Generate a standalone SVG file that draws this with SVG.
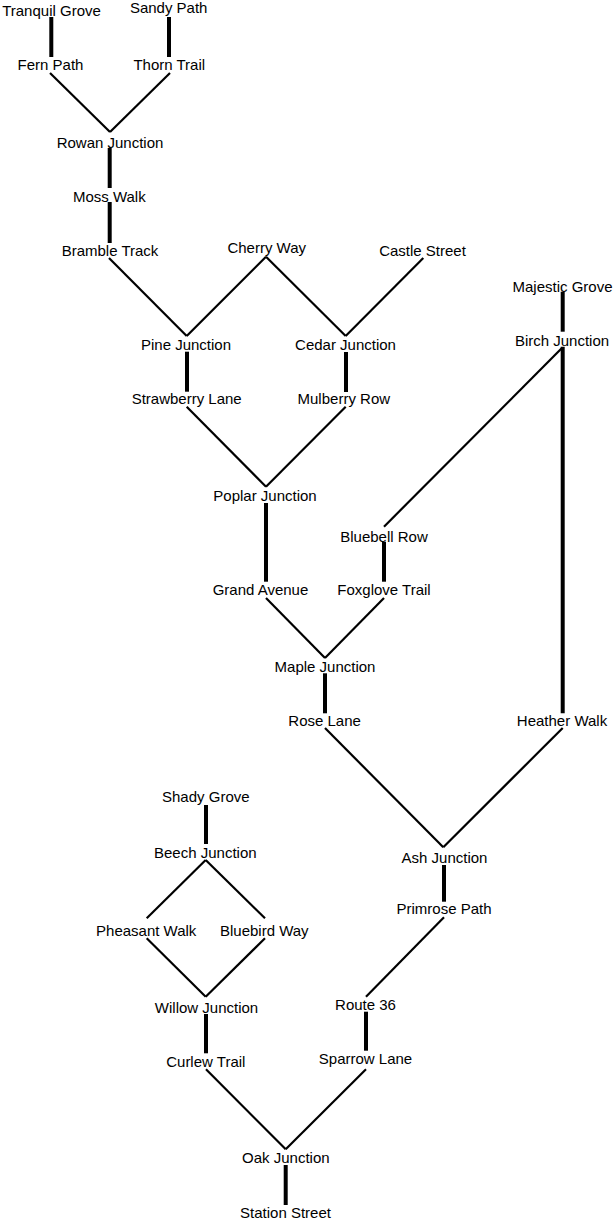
<svg xmlns="http://www.w3.org/2000/svg" width="615" height="1219" viewBox="0 0 615 1219">
<style>
.v{stroke:#000;stroke-width:4;fill:none}
.d{stroke:#000;stroke-width:2.2;fill:none}
text{font-family:"Liberation Sans",Arial,sans-serif;font-size:15px;fill:#000;text-anchor:middle}
</style>
<rect width="615" height="1219" fill="#fff"/>
<g id="connectors">
<line class="v" x1="51.3" y1="17" x2="51.3" y2="57"/>
<line class="v" x1="169" y1="17" x2="169" y2="57"/>
<line class="v" x1="109.7" y1="148" x2="109.7" y2="188"/>
<line class="v" x1="109.7" y1="202" x2="109.7" y2="243"/>
<line class="v" x1="187" y1="351.7" x2="187" y2="391.7"/>
<line class="v" x1="346" y1="352" x2="346" y2="392"/>
<line class="v" x1="266" y1="503" x2="266" y2="581.7"/>
<line class="v" x1="384" y1="541.7" x2="384" y2="581.7"/>
<line class="v" x1="562.7" y1="291.7" x2="562.7" y2="331.7"/>
<line class="v" x1="562.7" y1="346.7" x2="562.7" y2="713.3"/>
<line class="v" x1="325" y1="673.3" x2="325" y2="713.3"/>
<line class="v" x1="444" y1="865" x2="444" y2="901.7"/>
<line class="v" x1="366" y1="1011.7" x2="366" y2="1050.7"/>
<line class="v" x1="206" y1="1014" x2="206" y2="1053.3"/>
<line class="v" x1="285.7" y1="1165" x2="285.7" y2="1205"/>
<line class="v" x1="206" y1="805" x2="206" y2="844"/>
<line class="d" x1="50" y1="73" x2="110" y2="132"/>
<line class="d" x1="170" y1="73" x2="110" y2="132"/>
<line class="d" x1="109" y1="258" x2="186.7" y2="336"/>
<line class="d" x1="266" y1="256.7" x2="186.7" y2="336"/>
<line class="d" x1="266" y1="256.7" x2="345.7" y2="336"/>
<line class="d" x1="423.3" y1="258" x2="345.7" y2="336"/>
<line class="d" x1="186.7" y1="406.7" x2="266" y2="486.7"/>
<line class="d" x1="345.7" y1="406.7" x2="266" y2="486.7"/>
<line class="d" x1="561.7" y1="348.3" x2="384" y2="526.7"/>
<line class="d" x1="266" y1="598" x2="325" y2="658"/>
<line class="d" x1="384" y1="598" x2="325" y2="658"/>
<line class="d" x1="325" y1="728" x2="443.3" y2="847.3"/>
<line class="d" x1="562.7" y1="728" x2="443.3" y2="847.3"/>
<line class="d" x1="444" y1="917.3" x2="366" y2="996.7"/>
<line class="d" x1="366" y1="1069.3" x2="285.7" y2="1149.3"/>
<line class="d" x1="206" y1="1069.3" x2="285.7" y2="1149.3"/>
<line class="d" x1="205.7" y1="860" x2="146.7" y2="918.3"/>
<line class="d" x1="205.7" y1="860" x2="265" y2="918.3"/>
<line class="d" x1="146.7" y1="938.3" x2="205.7" y2="996.7"/>
<line class="d" x1="265" y1="938.3" x2="205.7" y2="996.7"/>
</g>
<g id="tranquil-grove"><text x="51.5" y="16">Tranquil Grove</text></g>
<g id="sandy-path"><text x="168.7" y="13">Sandy Path</text></g>
<g id="fern-path"><text x="50.5" y="70">Fern Path</text></g>
<g id="thorn-trail"><text x="169.3" y="70">Thorn Trail</text></g>
<g id="rowan-junction"><text x="110" y="148">Rowan Junction</text></g>
<g id="moss-walk"><text x="109.3" y="201.5">Moss Walk</text></g>
<g id="bramble-track"><text x="110" y="255.5">Bramble Track</text></g>
<g id="cherry-way"><text x="266.7" y="252.5">Cherry Way</text></g>
<g id="castle-street"><text x="422.5" y="255.5">Castle Street</text></g>
<g id="pine-junction"><text x="186" y="350">Pine Junction</text></g>
<g id="cedar-junction"><text x="345.5" y="350">Cedar Junction</text></g>
<g id="strawberry-lane"><text x="186.7" y="404">Strawberry Lane</text></g>
<g id="mulberry-row"><text x="343.8" y="404">Mulberry Row</text></g>
<g id="poplar-junction"><text x="265" y="500.5">Poplar Junction</text></g>
<g id="majestic-grove"><text x="562.5" y="291.5">Majestic Grove</text></g>
<g id="birch-junction"><text x="562" y="345.5">Birch Junction</text></g>
<g id="bluebell-row"><text x="384" y="541.5">Bluebell Row</text></g>
<g id="grand-avenue"><text x="260.5" y="595">Grand Avenue</text></g>
<g id="foxglove-trail"><text x="384" y="595">Foxglove Trail</text></g>
<g id="maple-junction"><text x="325" y="672">Maple Junction</text></g>
<g id="rose-lane"><text x="324.6" y="726">Rose Lane</text></g>
<g id="heather-walk"><text x="562" y="726">Heather Walk</text></g>
<g id="ash-junction"><text x="444.5" y="863">Ash Junction</text></g>
<g id="primrose-path"><text x="444" y="914">Primrose Path</text></g>
<g id="shady-grove"><text x="205.8" y="801.5">Shady Grove</text></g>
<g id="beech-junction"><text x="205.3" y="857.5">Beech Junction</text></g>
<g id="pheasant-walk"><text x="146.2" y="935.5">Pheasant Walk</text></g>
<g id="bluebird-way"><text x="264.3" y="935.5">Bluebird Way</text></g>
<g id="willow-junction"><text x="206.5" y="1013">Willow Junction</text></g>
<g id="route-36"><text x="365.5" y="1010">Route 36</text></g>
<g id="curlew-trail"><text x="205.8" y="1067">Curlew Trail</text></g>
<g id="sparrow-lane"><text x="365.5" y="1064">Sparrow Lane</text></g>
<g id="oak-junction"><text x="285.8" y="1163">Oak Junction</text></g>
<g id="station-street"><text x="285.5" y="1217.5">Station Street</text></g>
</svg>
